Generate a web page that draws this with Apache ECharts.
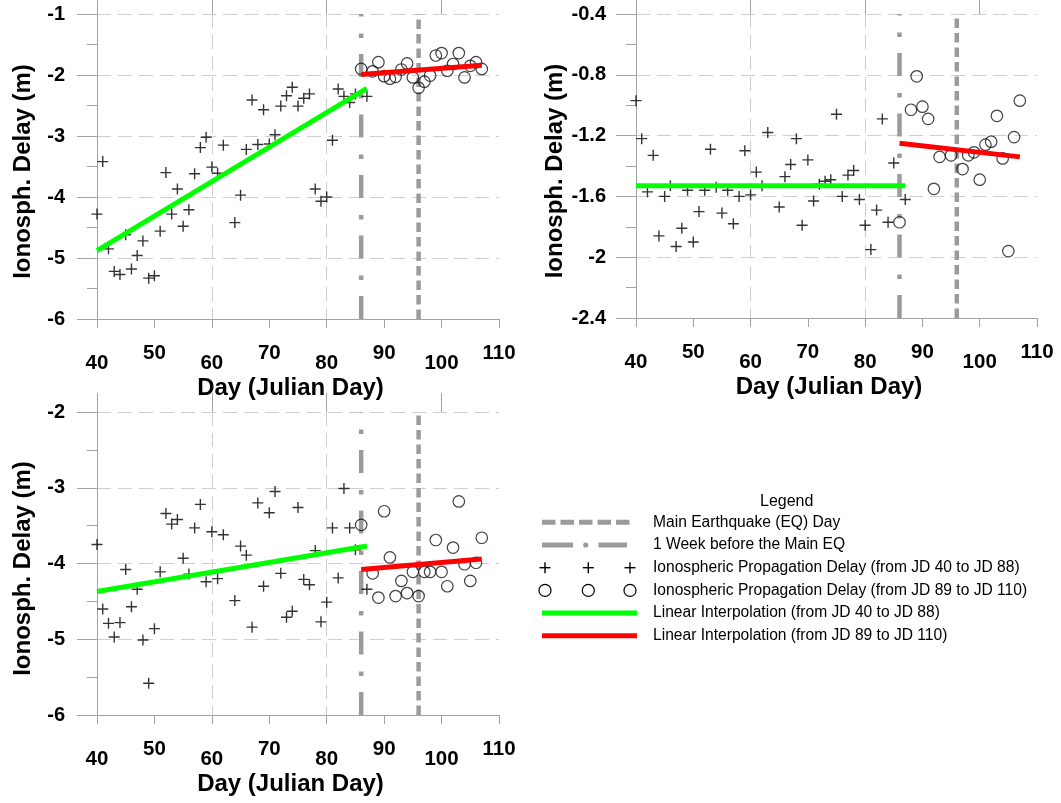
<!DOCTYPE html>
<html>
<head>
<meta charset="utf-8">
<title>Ionospheric Propagation Delay</title>
<script src="https://cdn.jsdelivr.net/npm/echarts@6.0.0/dist/echarts.min.js"></script>
<style>
  html, body { margin: 0; padding: 0; background: #ffffff; }
  #chart { width: 1061px; height: 803px; }
</style>
</head>
<body>
<div id="chart"></div>
<script>
// days (Julian) that carry a reading
const crossDaysA = [40, 41, 42, 43, 44, 45, 46, 47, 48, 49, 50, 51, 52, 53, 54, 55, 56, 57, 58, 59, 60, 61, 62,
  64, 65, 66, 67, 68, 69, 70, 71, 72, 73, 74, 75, 76, 77, 78, 79, 80, 81, 82, 83, 84, 85, 87]
const crossDaysB = [40, 41, 42, 43, 44, 45, 46, 47, 48, 49, 50, 51, 52, 53, 54, 55, 56, 57, 58, 59, 60, 61, 62, 63,
  65, 66, 67, 68, 69, 70, 71, 72, 73, 74, 75, 76, 77, 78, 79, 80, 81, 82, 83, 84, 85, 87]
const circleDaysA = [86, 88, 89, 90, 91, 92, 93, 94, 95, 96, 97, 98, 99, 100, 101, 102, 103, 104, 105, 106, 107]
const circleDaysB = [86, 88, 89, 90, 91, 92, 93, 95, 97, 98, 99, 100, 101, 102, 103, 104, 105, 106, 107]

// top left panel (m)
const tlCross = [-4.28, -3.42, -4.85, -5.22, -5.27, -4.62, -5.18, -4.96, -4.72, -5.33, -5.29, -4.56, -3.60, -4.28,
  -3.87, -4.48, -4.21, -3.62, -3.19, -3.02, -3.51, -3.61, -3.15,
  -4.42, -3.97, -3.22, -2.41, -3.14, -2.57, -3.13, -2.98, -2.51, -2.34, -2.20, -2.51, -2.38, -2.31, -3.87, -4.07,
  -4.00, -3.07, -2.23, -2.35, -2.45, -2.31, -2.35]
const tlCircle = [-1.90, -1.94, -1.79, -2.02, -2.06, -2.03, -1.91, -1.81, -2.04, -2.21, -2.11, -2.01, -1.68, -1.64,
  -1.93, -1.82, -1.64, -2.04, -1.85, -1.79, -1.90]
const tlGreen = [[40, -4.88], [87, -2.22]]
const tlRed = [[86, -1.99], [107, -1.84]]

// top right panel (m)
const trCross = [-0.97, -1.22, -1.57, -1.33, -1.86, -1.60, -1.53, -1.93, -1.81, -1.56, -1.90, -1.70, -1.56, -1.29,
  -1.54, -1.71, -1.56, -1.78, -1.60, -1.30, -1.59, -1.44, -1.53, -1.18,
  -1.67, -1.47, -1.39, -1.22, -1.79, -1.36, -1.63, -1.52, -1.50, -1.49, -1.06, -1.60, -1.46, -1.43, -1.62, -1.79,
  -1.95, -1.69, -1.09, -1.77, -1.38, -1.62]
const trCircle = [-1.77, -1.03, -0.81, -1.01, -1.09, -1.55, -1.34, -1.33, -1.42, -1.33, -1.31, -1.49, -1.26, -1.24,
  -1.07, -1.35, -1.96, -1.21, -0.97]
const trGreen = [[40, -1.53], [87, -1.53]]
const trRed = [[86, -1.25], [107, -1.34]]

// bottom left panel (m)
const blCross = [-3.75, -4.60, -4.79, -4.97, -4.78, -4.08, -4.57, -4.34, -5.01, -5.58, -4.86, -4.11, -3.34, -3.48,
  -3.42, -3.93, -4.14, -3.53, -3.22, -4.24, -3.58, -4.20, -3.62,
  -4.49, -3.77, -3.89, -4.84, -3.20, -4.30, -3.33, -3.05, -4.13, -4.71, -4.63, -3.26, -4.21, -4.28, -3.83, -4.77,
  -4.51, -3.53, -4.19, -3.01, -3.53, -3.82, -4.34]
const blCircle = [-3.49, -4.13, -4.45, -3.31, -3.92, -4.43, -4.23, -4.39, -4.11, -4.43, -4.11, -4.11, -3.69, -4.11,
  -4.30, -3.79, -3.18, -4.01, -4.23, -3.99, -3.66]
const blGreen = [[40, -4.37], [87, -3.77]]
const blRed = [[86, -4.08], [107, -3.94]]

// event days
const eqDay = 96
const weekBeforeDay = 86

// axis ranges: [min, max, interval]
const xRange = [40, 110, 10]
const tlY = [-6, -1, 1]
const trY = [-2.4, -0.4, 0.4]
const blY = [-6, -2, 1]

const FONT = 'Liberation Sans, Arial, sans-serif'
const AXIS_GRAY = '#a3a3a3'
const GRID_GRAY = '#cfcfcf'
const EVENT_GRAY = '#9b9b9b'
const CROSS = 'path://M0,5L10,5M5,0L5,10'

const grids = [
  {left: 97, top: 14, width: 402, height: 305},
  {left: 636, top: 14, width: 401, height: 304},
  {left: 97, top: 412, width: 402, height: 303}
]

function zip (days, vals) {
  return days.map((d, i) => [d, vals[i]])
}

function xAxes (g) {
  const lbl = {fontFamily: FONT, fontSize: 20.5, fontWeight: 'bold', color: '#000', lineHeight: 20}
  return [
    {
      type: 'value',
      gridIndex: g,
      min: xRange[0],
      max: xRange[1],
      interval: xRange[2],
      name: 'Day (Julian Day)',
      nameLocation: 'middle',
      nameGap: 57,
      nameTextStyle: {fontFamily: FONT, fontSize: 24, fontWeight: 'bold', color: '#000', padding: [0, 15, 0, 0]},
      axisLine: {show: true, lineStyle: {color: AXIS_GRAY, width: 1}},
      axisTick: {show: true, length: 9, lineStyle: {color: AXIS_GRAY}},
      splitLine: {show: false},
      axisLabel: {
        margin: 24,
        // labels alternate between two rows
        formatter: v => (v % 20 === 0 ? '{lo|' + v + '}' : '{hi|' + v + '}'),
        rich: {
          lo: Object.assign({padding: [20, 0, 0, 0]}, lbl),
          hi: lbl
        }
      }
    },
    {
      // long ticks and vertical grid every 20 days
      type: 'value',
      gridIndex: g,
      min: xRange[0],
      max: xRange[1],
      interval: 20,
      axisLine: {show: false},
      axisLabel: {show: false},
      axisTick: {show: true, length: 19, customValues: [40, 60, 80, 100], lineStyle: {color: AXIS_GRAY}},
      splitLine: {show: true, showMinLine: false, showMaxLine: false, lineStyle: {color: GRID_GRAY, type: [14, 7]}}
    }
  ]
}

function yAxis (g, r, labelGap) {
  return {
    type: 'value',
    gridIndex: g,
    min: r[0],
    max: r[1],
    interval: r[2],
    name: 'Ionosph. Delay (m)',
    nameLocation: 'middle',
    nameGap: 62,
    nameTextStyle: {fontFamily: FONT, fontSize: 24, fontWeight: 'bold', color: '#000', padding: [0, 10, 0, 0]},
    axisLine: {show: true, lineStyle: {color: AXIS_GRAY, width: 1}},
    axisTick: {show: true, length: 20, lineStyle: {color: AXIS_GRAY}},
    minorTick: {show: true, splitNumber: 2, length: 10, lineStyle: {color: AXIS_GRAY}},
    splitLine: {show: true, showMinLine: false, showMaxLine: true, lineStyle: {color: GRID_GRAY, type: [14, 7]}},
    axisLabel: {margin: labelGap, fontFamily: FONT, fontSize: 20, fontWeight: 'bold', color: '#000'}
  }
}

function panel (g, r, crossDays, crossVals, circleDays, circleVals, green, red) {
  const ax = {xAxisIndex: 2 * g, yAxisIndex: g, silent: true, emphasis: {disabled: true}}
  return [
    Object.assign({
      type: 'line',
      data: [[eqDay, r[0]], [eqDay, r[1]]],
      symbol: 'none',
      clip: false,
      z: 1,
      lineStyle: {color: EVENT_GRAY, width: 4.5, type: [9.5, 5], cap: 'butt'}
    }, ax),
    Object.assign({
      type: 'line',
      data: [[weekBeforeDay, r[0]], [weekBeforeDay, r[1]]],
      symbol: 'none',
      clip: false,
      z: 1,
      lineStyle: {color: EVENT_GRAY, width: 4.5, type: [23, 16, 4.5, 17], cap: 'butt'}
    }, ax),
    Object.assign({
      type: 'scatter',
      data: zip(crossDays, crossVals),
      symbol: CROSS,
      symbolSize: 11,
      z: 2,
      itemStyle: {color: 'rgba(0,0,0,0)', borderColor: '#000', borderWidth: 1.4}
    }, ax),
    Object.assign({
      type: 'scatter',
      data: zip(circleDays, circleVals),
      symbol: 'circle',
      symbolSize: 11.5,
      z: 2,
      itemStyle: {color: 'rgba(0,0,0,0)', borderColor: '#111', borderWidth: 1.2}
    }, ax),
    Object.assign({
      type: 'line',
      data: green,
      symbol: 'none',
      z: 3,
      lineStyle: {color: '#00ff00', width: 5}
    }, ax),
    Object.assign({
      type: 'line',
      data: red,
      symbol: 'none',
      z: 3,
      lineStyle: {color: '#ff0000', width: 5}
    }, ax)
  ]
}

// legend drawn as plain graphics (three samples per row)
const rowY = [522.3, 545, 567.7, 590.4, 613.1, 635.8]
const legendTexts = [
  'Main Earthquake (EQ) Day',
  '1 Week before the Main EQ',
  'Ionospheric Propagation Delay (from JD 40 to JD 88)',
  'Ionospheric Propagation Delay (from JD 89 to JD 110)',
  'Linear Interpolation (from JD 40 to JD 88)',
  'Linear Interpolation (from JD 89 to JD 110)'
]
const sampleX = [545, 588.3, 630]

function legendGraphics () {
  const els = [{
    type: 'text',
    x: 786.7,
    y: 501.7,
    style: {text: 'Legend', font: '16px ' + FONT, fill: '#000', align: 'center', verticalAlign: 'middle', textAlign: 'center', textVerticalAlign: 'middle'}
  }]
  legendTexts.forEach((t, i) => {
    els.push({
      type: 'text',
      x: 653,
      y: rowY[i],
      style: {text: t, font: '15.6px ' + FONT, fill: '#000', align: 'left', verticalAlign: 'middle', textAlign: 'left', textVerticalAlign: 'middle'}
    })
  })
  els.push({type: 'line', shape: {x1: 542, y1: rowY[0], x2: 632, y2: rowY[0]},
    style: {stroke: EVENT_GRAY, lineWidth: 5, lineDash: [13.5, 5]}})
  els.push({type: 'line', shape: {x1: 542, y1: rowY[1], x2: 573, y2: rowY[1]},
    style: {stroke: EVENT_GRAY, lineWidth: 5}})
  els.push({type: 'circle', shape: {cx: 585.7, cy: rowY[1], r: 2.6}, style: {fill: EVENT_GRAY}})
  els.push({type: 'line', shape: {x1: 598.5, y1: rowY[1], x2: 627, y2: rowY[1]},
    style: {stroke: EVENT_GRAY, lineWidth: 5}})
  sampleX.forEach(x => {
    els.push({type: 'line', shape: {x1: x - 5.5, y1: rowY[2], x2: x + 5.5, y2: rowY[2]}, style: {stroke: '#000', lineWidth: 1.4}})
    els.push({type: 'line', shape: {x1: x, y1: rowY[2] - 5.5, x2: x, y2: rowY[2] + 5.5}, style: {stroke: '#000', lineWidth: 1.4}})
    els.push({type: 'circle', shape: {cx: x, cy: rowY[3], r: 6}, style: {fill: 'none', stroke: '#000', lineWidth: 1.2}})
  })
  els.push({type: 'line', shape: {x1: 542, y1: rowY[4], x2: 637, y2: rowY[4]}, style: {stroke: '#00ff00', lineWidth: 5}})
  els.push({type: 'line', shape: {x1: 542, y1: rowY[5], x2: 637, y2: rowY[5]}, style: {stroke: '#ff0000', lineWidth: 5}})
  return els
}

const chart = echarts.init(document.getElementById('chart'))
chart.setOption({
  animation: false,
  backgroundColor: '#ffffff',
  grid: grids,
  xAxis: [].concat(xAxes(0), xAxes(1), xAxes(2)),
  yAxis: [yAxis(0, tlY, 32), yAxis(1, trY, 30), yAxis(2, blY, 32)],
  series: [].concat(
    panel(0, tlY, crossDaysA, tlCross, circleDaysA, tlCircle, tlGreen, tlRed),
    panel(1, trY, crossDaysB, trCross, circleDaysB, trCircle, trGreen, trRed),
    panel(2, blY, crossDaysA, blCross, circleDaysA, blCircle, blGreen, blRed)
  ),
  graphic: legendGraphics()
})
</script>
</body>
</html>
